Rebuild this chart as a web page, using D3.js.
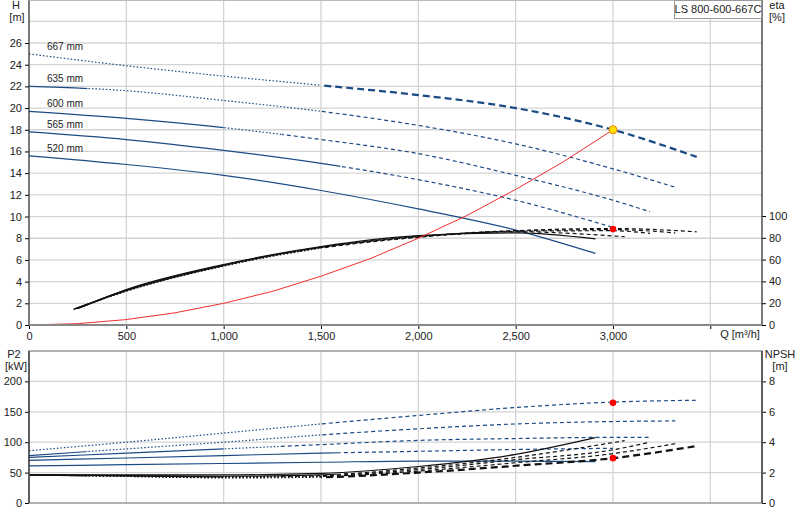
<!DOCTYPE html>
<html><head><meta charset="utf-8">
<script src="https://cdn.jsdelivr.net/npm/d3@7"></script>
<style>
body{margin:0;background:#fff;font-family:"Liberation Sans",Arial,sans-serif;}
text{font-size:11px;fill:#222;}
.grid line{stroke:#d4d4d4;stroke-width:1.3;}
</style></head>
<body><svg id="chart" width="800" height="520"></svg>
<script>
var diameters = ['667 mm', '635 mm', '600 mm', '565 mm', '520 mm'];
var head = [
  [[0,25],[500,23.9],[1000,22.95],[1500,22.1],[2000,21.2],[2500,20],[3000,18],[3430,15.5]],
  [[0,22],[500,21.6],[1000,20.7],[1500,19.7],[2000,18.4],[2500,16.7],[3000,14.4],[3320,12.7]],
  [[0,19.7],[500,19.05],[1000,18.2],[1500,17.1],[2000,15.8],[2500,13.8],[3000,11.5],[3190,10.45]],
  [[0,17.8],[500,17.1],[1000,16.1],[1500,14.9],[2000,13.4],[2500,11.5],[3000,9.0]],
  [[0,15.6],[500,14.8],[1000,13.8],[1500,12.4],[2000,10.7],[2500,8.75],[2910,6.6]]
];
var eta = [
  [[230,14],[500,31],[1000,54],[1500,70.5],[2000,80.5],[2500,86.5],[3000,88.5],[3430,85.5]],
  [[230,14.5],[500,31.5],[1000,54.5],[1500,71],[2000,81],[2500,86.5],[3000,87.5],[3320,84.5]],
  [[240,15],[500,31.5],[1000,54.5],[1500,71],[2000,81],[2500,86],[3000,86.5],[3190,84]],
  [[250,15],[500,32],[1000,55],[1500,71.5],[2000,81.5],[2500,85.5],[3060,81]],
  [[260,16],[500,32.5],[1000,55.5],[1500,72],[2000,82],[2500,84.5],[2910,79]]
];
var system = [[0,0],[250,0.125],[500,0.5],[750,1.125],[1000,2],[1250,3.1],[1500,4.5],[1750,6.1],[2000,8],[2250,10.1],[2500,12.5],[2750,15.1],[3000,18]];
var power = [
  [[0,86],[500,100],[1000,115],[1500,130],[2000,144],[2500,157],[3000,166],[3430,169]],
  [[0,78],[500,89],[1000,100],[1500,112],[2000,122],[2500,130],[3000,134],[3320,135]],
  [[0,75],[500,82],[1000,89],[1500,96],[2000,103],[2500,106],[3000,108],[3190,108]],
  [[0,70],[500,74],[1000,78],[1500,82],[2000,85],[2500,88],[3000,90]],
  [[0,61],[500,63],[1000,65],[1500,67],[2000,69],[2500,69],[2910,68]]
];
var npsh = [
  [[0,1.85],[500,1.75],[1000,1.65],[1500,1.7],[2000,2.0],[2500,2.45],[3000,2.95],[3430,3.75]],
  [[0,1.85],[500,1.75],[1000,1.68],[1500,1.75],[2000,2.1],[2500,2.65],[3000,3.25],[3320,3.9]],
  [[0,1.85],[500,1.78],[1000,1.72],[1500,1.8],[2000,2.2],[2500,2.85],[3000,3.5],[3190,4.0]],
  [[0,1.85],[500,1.8],[1000,1.76],[1500,1.85],[2000,2.3],[2500,3.0],[3060,4.1]],
  [[0,1.85],[500,1.85],[1000,1.85],[1500,1.95],[2000,2.4],[2500,3.2],[2910,4.3]]
];
var duty = {q: 3000, h: 18, eta: 88, p2: 165, npsh: 2.95};
var qTicks = [0, 500, 1000, 1500, 2000, 2500, 3000];
var hTicks = d3.range(0, 27, 2);
var etaTicks = [0, 20, 40, 60, 80, 100];
var p2Ticks = [0, 50, 100, 150, 200];
var npshTicks = [0, 2, 4, 6, 8];

// [Q where solid ends, Q where dotted ends] -> after that dashed
var segs = [[0,1500],[300,1500],[1000,1300],[1600,1600],[4000,4000]];

var svg = d3.select('#chart');
var x = d3.scaleLinear().domain([0, 3500]).range([29, 710.3]);
var yH = d3.scaleLinear().domain([0, 26]).range([325, 43]);
var yEta = d3.scaleLinear().domain([0, 100]).range([325, 216]);
var yP = d3.scaleLinear().domain([0, 250]).range([503, 351]);
var yN = d3.scaleLinear().domain([0, 10]).range([503, 351]);
var fmt = d3.format(',');

function clip(id, q0, q1, y0, y1) {
  svg.append('clipPath').attr('id', id).append('rect')
    .attr('x', x(q0)).attr('width', x(q1) - x(q0)).attr('y', y0).attr('height', y1 - y0);
}
clip('cTop', 0, 3800, 0, 326);
clip('cBot', 0, 3800, 351, 503);
segs.forEach(function(s, i) {
  clip('s' + i + 'a', -100, s[0], 0, 520);
  clip('s' + i + 'b', s[0], s[1], 0, 520);
  clip('s' + i + 'c', s[1], 5000, 0, 520);
});

function grid(y, ticks, top, bottom) {
  var g = svg.append('g').attr('class', 'grid');
  g.selectAll('.v').data(qTicks.slice(1).concat([3500])).enter().append('line')
    .attr('x1', x).attr('x2', x).attr('y1', top).attr('y2', bottom);
  g.selectAll('.h').data(ticks).enter().append('line')
    .attr('x1', 29).attr('x2', 762).attr('y1', y).attr('y2', y);
}
grid(yH, d3.range(2, 29, 2), 0, 325);
grid(yP, [50, 100, 150, 200], 351, 503);

function drawCurve(data, yScale, i, color, thick, clipId) {
  var line = d3.line().curve(d3.curveMonotoneX).x(function(d) { return x(d[0]); }).y(function(d) { return yScale(d[1]); });
  var g = svg.append('g').attr('clip-path', 'url(#' + clipId + ')');
  var styles = [
    {c: 'a', dash: null, w: 1.2},
    {c: 'b', dash: '1.5,2', w: 1.2},
    {c: 'c', dash: thick ? '7,4' : '4,3', w: thick ? 2.2 : 1.2}
  ];
  styles.forEach(function(s) {
    g.append('g').attr('clip-path', 'url(#s' + i + s.c + ')')
      .append('path').attr('d', line(data)).attr('fill', 'none')
      .attr('stroke', color).attr('stroke-width', s.w)
      .attr('stroke-dasharray', s.dash);
  });
}

head.forEach(function(d, i) { drawCurve(d, yH, i, '#1a4b85', i == 0, 'cTop'); });
eta.forEach(function(d, i) { drawCurve(d, yEta, i, '#111', false, 'cTop'); });
power.forEach(function(d, i) { drawCurve(d, yP, i, '#1a4b85', false, 'cBot'); });
npsh.forEach(function(d, i) { drawCurve(d, yN, i, '#111', i == 0, 'cBot'); });

svg.append('path')
  .attr('d', d3.line().x(function(d) { return x(d[0]); }).y(function(d) { return yH(d[1]); })(system))
  .attr('fill', 'none').attr('stroke', '#f03030').attr('stroke-width', 1);

svg.selectAll('.dlab').data(diameters).enter().append('text')
  .attr('x', 47).attr('y', function(d, i) { return yH(head[i][0][1]) - 4; })
  .style('font-size', '10px').text(function(d) { return d; });

// duty points
svg.append('circle').attr('cx', x(duty.q)).attr('cy', yH(duty.h)).attr('r', 4)
  .attr('fill', '#ffe000').attr('stroke', '#f08000');
[[yEta, duty.eta], [yP, duty.p2], [yN, duty.npsh]].forEach(function(p) {
  svg.append('circle').attr('cx', x(duty.q)).attr('cy', p[0](p[1])).attr('r', 3.3).attr('fill', '#ff0000');
});

// axes
function leftAxis(y, ticks) {
  svg.append('g').attr('transform', 'translate(29,0)')
    .call(d3.axisLeft(y).tickValues(ticks).tickSize(4).tickFormat(d3.format('d')))
    .call(function(g) { g.select('.domain').remove(); g.selectAll('text').style('font-size', '11px'); });
}
function rightAxis(y, ticks) {
  svg.append('g').attr('transform', 'translate(762,0)')
    .call(d3.axisRight(y).tickValues(ticks).tickSize(4).tickFormat(d3.format('d')))
    .call(function(g) { g.select('.domain').remove(); g.selectAll('text').style('font-size', '11px'); });
}
leftAxis(yH, hTicks); rightAxis(yEta, etaTicks);
leftAxis(yP, p2Ticks); rightAxis(yN, npshTicks);

svg.append('g').attr('transform', 'translate(0,325)')
  .call(d3.axisBottom(x).tickValues(qTicks.concat([3500])).tickSize(4).tickFormat(function(d) { return d == 3500 ? '' : fmt(d); }))
  .call(function(g) { g.select('.domain').remove(); g.selectAll('text').style('font-size', '11px'); });

// frame lines
svg.append('line').attr('x1', 29).attr('x2', 29).attr('y1', 0).attr('y2', 325).attr('stroke', '#333').attr('stroke-width', 1.3);
svg.append('line').attr('x1', 762).attr('x2', 762).attr('y1', 0).attr('y2', 325).attr('stroke', '#333').attr('stroke-width', 1.3);
svg.append('line').attr('x1', 29).attr('x2', 762).attr('y1', 325).attr('y2', 325).attr('stroke', '#888').attr('stroke-width', 2);
svg.append('line').attr('x1', 29).attr('x2', 762).attr('y1', 0.5).attr('y2', 0.5).attr('stroke', '#bbb');
svg.append('rect').attr('x', 29).attr('y', 351).attr('width', 733).attr('height', 152)
  .attr('fill', 'none').attr('stroke', '#888').attr('stroke-width', 1.3);
svg.append('line').attr('x1', 29).attr('x2', 29).attr('y1', 351).attr('y2', 503).attr('stroke', '#333').attr('stroke-width', 1.3);
svg.append('line').attr('x1', 762).attr('x2', 762).attr('y1', 351).attr('y2', 503).attr('stroke', '#333').attr('stroke-width', 1.3);

// labels
function lab(t, px, py, anchor) {
  svg.append('text').attr('x', px).attr('y', py).attr('text-anchor', anchor || 'middle').text(t);
}
lab('H', 16, 9); lab('[m]', 17, 21);
lab('eta', 777, 9); lab('[%]', 777, 21);
lab('P2', 14, 358); lab('[kW]', 16, 370);
lab('NPSH', 780, 358); lab('[m]', 780, 370);
lab('Q [m³/h]', 740, 338);
svg.append('rect').attr('x', 674.5).attr('y', 0.5).attr('width', 87).attr('height', 18)
  .attr('fill', '#fff').attr('stroke', '#999');
lab('LS 800-600-667C', 718, 13);
</script></body></html>
